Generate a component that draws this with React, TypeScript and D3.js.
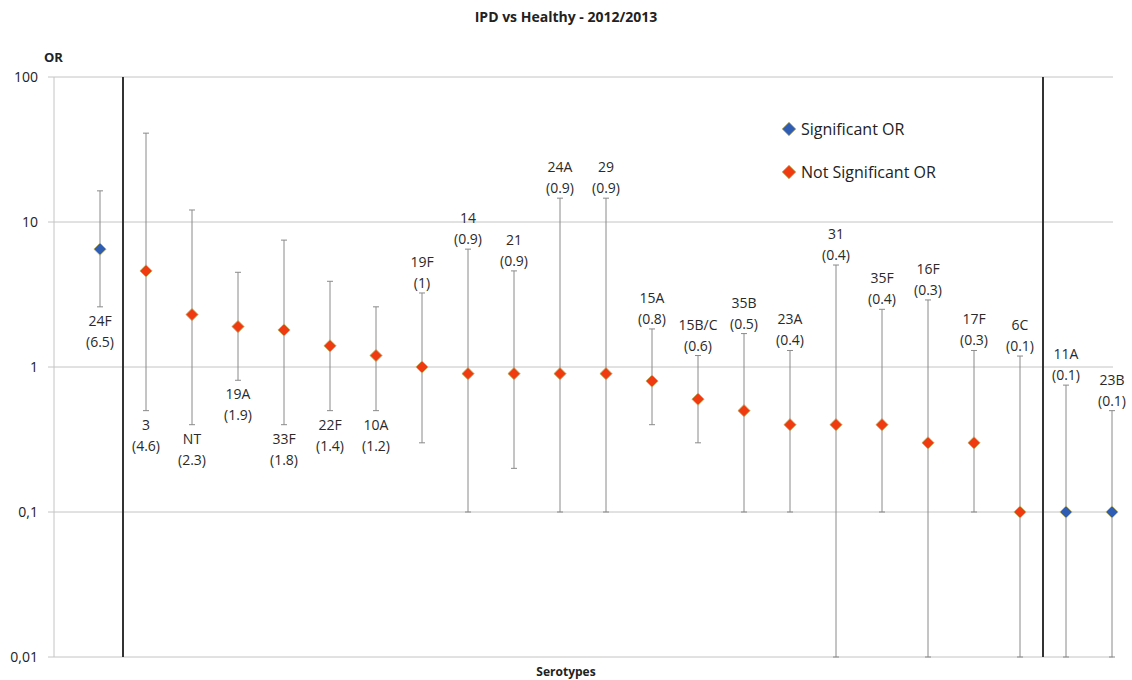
import React from "react";
import * as d3 from "d3";

const serotypes = ["24F","3","NT","19A","33F","22F","10A","19F","14","21","24A","29","15A","15B/C","35B","23A","31","35F","16F","17F","6C","11A","23B"];
const orValues = [6.5,4.6,2.3,1.9,1.8,1.4,1.2,1.0,0.9,0.9,0.9,0.9,0.8,0.6,0.5,0.4,0.4,0.4,0.3,0.3,0.1,0.1,0.1];
const ciLower = [2.6,0.5,0.4,0.81,0.4,0.5,0.5,0.3,0.1,0.2,0.1,0.1,0.4,0.3,0.1,0.1,0.01,0.1,0.01,0.1,0.01,0.01,0.01];
const ciUpper = [16.4,41,12.1,4.5,7.5,3.9,2.6,3.24,6.5,4.6,14.6,14.6,1.83,1.2,1.7,1.3,5.05,2.5,2.9,1.3,1.19,0.75,0.5];
const significant = [true,false,false,false,false,false,false,false,false,false,false,false,false,false,false,false,false,false,false,false,false,true,true];
const labelSide = ["below","below","below","below","below","below","below","above","above","above","above","above","above","above","above","above","above","above","above","above","above","above","above"];
const yTicks = [0.01,0.1,1,10,100];
const yTickLabels = ["0,01","0,1","1","10","100"];
const dividers = [1.5, 21.5];

const W = 1132, H = 680;
const FONT = "'Open Sans', 'Noto Sans', sans-serif";
const RED = "#f03a10";
const BLUE = "#2f5db3";

export default function App() {
  const x = d3.scaleLinear().domain([0, 23]).range([54, 1112]);
  const y = d3.scaleLog().domain([0.01, 100]).range([657, 77]);
  const diamond = d3.symbol().type(d3.symbolSquare).size(74)();
  const legendDiamond = d3.symbol().type(d3.symbolSquare).size(92)();

  return (
    <svg width={W} height={H} style={{ position: "absolute", left: 0, top: 0, background: "#fff" }} fontFamily={FONT}>
      <rect width={W} height={H} fill="#fff" />
      <text x={566} y={22} textAnchor="middle" fontSize={14} fontWeight="bold" fill="#222">IPD vs Healthy - 2012/2013</text>
      <text x={44} y={62} fontSize={13} fontWeight="bold" fill="#222">OR</text>
      <text x={566} y={676} textAnchor="middle" fontSize={12} fontWeight="bold" fill="#222">Serotypes</text>

      {yTicks.map((t, i) => (
        <g key={"g" + i}>
          <line x1={48} x2={1113} y1={y(t)} y2={y(t)} stroke="#c4c4c4" strokeWidth={1} />
          <text x={38} y={y(t) + 5} textAnchor="end" fontSize={14} fill="#222">{yTickLabels[i]}</text>
        </g>
      ))}
      <line x1={54} x2={54} y1={77} y2={657} stroke="#c4c4c4" strokeWidth={1} />

      {dividers.map((d, i) => (
        <line key={"d" + i} x1={x(d)} x2={x(d)} y1={77} y2={657} stroke="#333" strokeWidth={2} />
      ))}

      {serotypes.map((s, i) => {
        const cx = x(i + 1);
        return (
          <g key={"e" + i} stroke="#8a8a8a" strokeWidth={1}>
            <line x1={cx} x2={cx} y1={y(ciUpper[i])} y2={y(ciLower[i])} />
            <line x1={cx - 3} x2={cx + 3} y1={y(ciUpper[i])} y2={y(ciUpper[i])} />
            <line x1={cx - 3} x2={cx + 3} y1={y(ciLower[i])} y2={y(ciLower[i])} />
          </g>
        );
      })}

      {serotypes.map((s, i) => (
        <path key={"m" + i} d={diamond} transform={`translate(${x(i + 1)},${y(orValues[i])}) rotate(45)`}
          fill={significant[i] ? BLUE : RED} stroke="#b8b060" strokeWidth={0.8} />
      ))}

      {serotypes.map((s, i) => {
        const cx = x(i + 1);
        const above = labelSide[i] === "above";
        const y1 = above ? y(ciUpper[i]) - 26 : y(ciLower[i]) + 19;
        return (
          <text key={"l" + i} x={cx} textAnchor="middle" fontSize={14} fill="#2a2a2a">
            <tspan x={cx} y={y1}>{s}</tspan>
            <tspan x={cx} y={y1 + 21}>({String(orValues[i])})</tspan>
          </text>
        );
      })}

      <path d={legendDiamond} transform="translate(789,129) rotate(45)" fill={BLUE} stroke="#b8b060" strokeWidth={0.8} />
      <text x={801} y={135} fontSize={16} fill="#222">Significant OR</text>
      <path d={legendDiamond} transform="translate(789,172) rotate(45)" fill={RED} stroke="#b8b060" strokeWidth={0.8} />
      <text x={801} y={178} fontSize={16} fill="#222">Not Significant OR</text>
    </svg>
  );
}
